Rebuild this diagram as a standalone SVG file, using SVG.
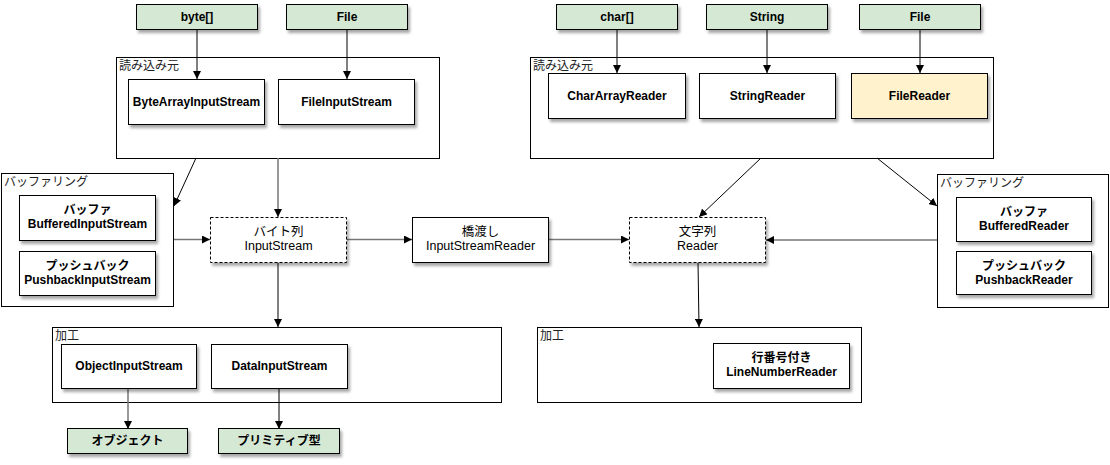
<svg xmlns="http://www.w3.org/2000/svg" width="1110" height="465" viewBox="0 0 1110 465">
<defs>
<filter id="sh" x="-10%" y="-10%" width="130%" height="140%">
<feDropShadow dx="2" dy="3" stdDeviation="1.6" flood-color="#000" flood-opacity="0.35"/>
</filter>
<marker id="ah" viewBox="0 0 10 10" refX="10" refY="5" markerWidth="8" markerHeight="8" markerUnits="userSpaceOnUse" orient="auto">
<path d="M0,0 L10,5 L0,10 Z" fill="#000"/>
</marker>
</defs>
<style>
text{font-family:"Liberation Sans","Noto Sans CJK JP",sans-serif;font-size:12px;fill:#000;text-anchor:middle}
.b{font-weight:bold}
.r{font-size:12.5px}
.gl{text-anchor:start;font-size:12px;fill:#222}
.grp{fill:#fff;stroke:#000;stroke-width:1}
.n{fill:#fff;stroke:#000;stroke-width:1;filter:url(#sh)}
.d{fill:#fff;stroke:#000;stroke-width:1;stroke-dasharray:3 2;filter:url(#sh)}
.g{fill:#d5e8d4;stroke:#000;stroke-width:1;filter:url(#sh)}
.y{fill:#fff2cc;stroke:#000;stroke-width:1;filter:url(#sh)}
.c{fill:none;stroke:#000;stroke-width:1;marker-end:url(#ah)}
.cg{fill:none;stroke:#777;stroke-width:1.5;marker-end:url(#ah)}
</style>
<rect width="1110" height="465" fill="#fff"/>

<g id="grp-read-left"><rect class="grp" x="116.5" y="57.5" width="323" height="101"/><text class="gl" x="119" y="70">読み込み元</text></g>
<g id="grp-buf-left"><rect class="grp" x="1.5" y="173.5" width="172" height="133"/><text class="gl" x="4" y="186">バッファリング</text></g>
<g id="grp-proc-left"><rect class="grp" x="52.5" y="327.5" width="449" height="75"/><text class="gl" x="55" y="340">加工</text></g>
<g id="grp-read-right"><rect class="grp" x="530.5" y="57.5" width="463" height="101"/><text class="gl" x="533" y="70">読み込み元</text></g>
<g id="grp-buf-right"><rect class="grp" x="937.5" y="174.5" width="171" height="133"/><text class="gl" x="940" y="187">バッファリング</text></g>
<g id="grp-proc-right"><rect class="grp" x="537.5" y="327.5" width="324" height="75"/><text class="gl" x="540" y="340">加工</text></g>

<g id="connectors">
<line class="c" x1="197" y1="29" x2="197" y2="79"/>
<line class="c" x1="347" y1="29" x2="347" y2="79"/>
<line class="c" x1="617" y1="29" x2="617" y2="73"/>
<line class="c" x1="767" y1="29" x2="767" y2="73"/>
<line class="c" x1="920" y1="29" x2="920" y2="73"/>
<line class="c" x1="196" y1="158" x2="174" y2="206"/>
<line class="cg" x1="278" y1="158" x2="278" y2="217"/>
<line class="cg" x1="174" y1="239.5" x2="210" y2="239.5"/>
<line class="cg" x1="347" y1="239.5" x2="412" y2="239.5"/>
<line class="cg" x1="549" y1="239.5" x2="629" y2="239.5"/>
<line class="c" x1="761" y1="158" x2="699" y2="217"/>
<line class="c" x1="877" y1="158" x2="937" y2="206"/>
<line class="cg" x1="937" y1="240" x2="766" y2="240"/>
<line class="c" x1="278" y1="262" x2="278" y2="327"/>
<line class="c" x1="698" y1="262" x2="699" y2="327"/>
<line class="cg" x1="128" y1="388" x2="128" y2="429"/>
<line class="c" x1="279" y1="388" x2="279" y2="429"/>
</g>

<g id="n-byte"><rect class="g" x="136.5" y="4.5" width="121" height="25"/><text class="b" x="197" y="21">byte[]</text></g>
<g id="n-file-l"><rect class="g" x="286.5" y="4.5" width="121" height="25"/><text class="b" x="347" y="21">File</text></g>
<g id="n-bais"><rect class="n" x="128.5" y="79.5" width="136" height="45"/><text class="b" x="196.5" y="106">ByteArrayInputStream</text></g>
<g id="n-fis"><rect class="n" x="278.5" y="79.5" width="136" height="45"/><text class="b" x="346.5" y="106">FileInputStream</text></g>

<g id="n-bis"><rect class="n" x="19.5" y="195.5" width="136" height="45"/><text class="b" x="87.5" y="214">バッファ</text><text class="b" x="87.5" y="228">BufferedInputStream</text></g>
<g id="n-pbis"><rect class="n" x="19.5" y="251.5" width="136" height="44"/><text class="b" x="87.5" y="270">プッシュバック</text><text class="b" x="87.5" y="284">PushbackInputStream</text></g>

<g id="n-is"><rect class="d" x="210.5" y="217.5" width="136" height="45"/><text class="r" x="278.5" y="236">バイト列</text><text class="r" x="278.5" y="250">InputStream</text></g>
<g id="n-isr"><rect class="n" x="412.5" y="217.5" width="136" height="45"/><text class="r" x="480.5" y="236">橋渡し</text><text class="r" x="480.5" y="250">InputStreamReader</text></g>
<g id="n-reader"><rect class="d" x="629.5" y="217.5" width="136" height="45"/><text class="r" x="697.5" y="236">文字列</text><text class="r" x="697.5" y="250">Reader</text></g>

<g id="n-ois"><rect class="n" x="61.5" y="344.5" width="135" height="44"/><text class="b" x="129" y="370">ObjectInputStream</text></g>
<g id="n-dis"><rect class="n" x="211.5" y="344.5" width="136" height="44"/><text class="b" x="279.5" y="370">DataInputStream</text></g>
<g id="n-obj"><rect class="g" x="67.5" y="428.5" width="120" height="25"/><text class="b" x="127.5" y="445">オブジェクト</text></g>
<g id="n-prim"><rect class="g" x="218.5" y="428.5" width="121" height="25"/><text class="b" x="279" y="445">プリミティブ型</text></g>

<g id="n-char"><rect class="g" x="556.5" y="4.5" width="121" height="25"/><text class="b" x="617" y="21">char[]</text></g>
<g id="n-string"><rect class="g" x="706.5" y="4.5" width="121" height="25"/><text class="b" x="767" y="21">String</text></g>
<g id="n-file-r"><rect class="g" x="859.5" y="4.5" width="121" height="25"/><text class="b" x="920" y="21">File</text></g>
<g id="n-car"><rect class="n" x="548.5" y="73.5" width="137" height="45"/><text class="b" x="617" y="100">CharArrayReader</text></g>
<g id="n-sr"><rect class="n" x="699.5" y="73.5" width="136" height="45"/><text class="b" x="767.5" y="100">StringReader</text></g>
<g id="n-fr"><rect class="y" x="851.5" y="73.5" width="136" height="45"/><text class="b" x="919.5" y="100">FileReader</text></g>

<g id="n-br"><rect class="n" x="956.5" y="197.5" width="135" height="44"/><text class="b" x="1024" y="216">バッファ</text><text class="b" x="1024" y="230">BufferedReader</text></g>
<g id="n-pbr"><rect class="n" x="956.5" y="251.5" width="135" height="43"/><text class="b" x="1024" y="270">プッシュバック</text><text class="b" x="1024" y="284">PushbackReader</text></g>
<g id="n-lnr"><rect class="n" x="713.5" y="343.5" width="136" height="45"/><text class="b" x="781.5" y="362">行番号付き</text><text class="b" x="781.5" y="376">LineNumberReader</text></g>
</svg>
